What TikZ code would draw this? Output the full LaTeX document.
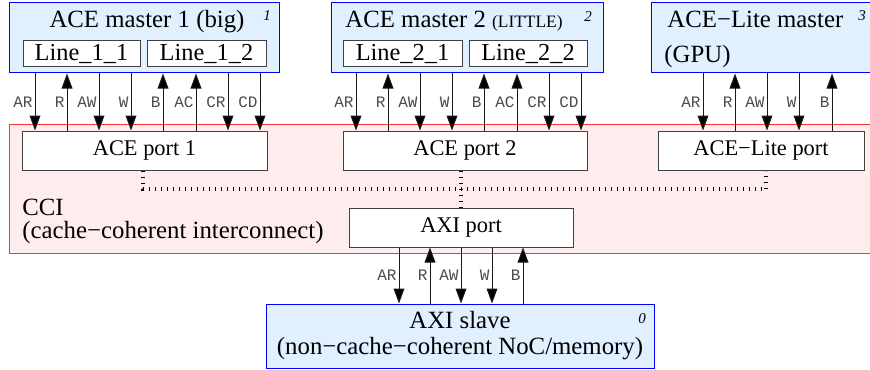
\documentclass[tikz,border=0pt]{standalone}
\usepackage{fontspec}
\setmainfont{Liberation Serif}
\setmonofont{Liberation Mono}
\usetikzlibrary{positioning,arrows.meta}

\definecolor{masterfill}{HTML}{E0F0FF}
\definecolor{ccifill}{HTML}{FFECEC}

\begin{document}
\begin{tikzpicture}[
x=0.5pt, y=-0.5pt,
master/.style={draw=blue, fill=masterfill, line width=0.5pt, inner sep=0pt, minimum height=35pt},
cacheline/.style={draw=black!75, fill=white, line width=0.5pt, inner sep=0pt, minimum height=13pt, font=\fontsize{12.2}{13}\selectfont},
port/.style={draw=black!75, fill=white, line width=0.5pt, inner sep=0pt, minimum height=19.5pt, font=\fontsize{11.2}{13}\selectfont},
cci/.style={draw=red!80, fill=ccifill, line width=0.5pt, inner sep=0pt},
txt/.style={inner sep=0pt, font=\fontsize{12.4}{13}\selectfont},
num/.style={inner sep=0pt, font=\fontsize{7.5}{8}\selectfont\itshape},
sig/.style={draw=black!90, line width=0.5pt},
dn/.style={-{Triangle[width=5.4pt,length=7.5pt]}},
up/.style={{Triangle[width=5.4pt,length=7.5pt]}-},
lab/.style={left, inner sep=1pt, text=black!70, font=\fontsize{8}{9}\selectfont\ttfamily},
bus/.style={line width=2pt, dash pattern=on 0.5pt off 2.5pt},
]
\useasboundingbox (0,0) rectangle (870,369);

% interconnect
\node[cci, minimum width=440pt, minimum height=64.5pt] (cci) at (449,188.5) {};
\node[txt, anchor=base west] (tc1) at (22,215) {CCI};
\node[txt, anchor=base west] (tc2) at (22,238) {(cache−coherent interconnect)};

% masters
\node[master, minimum width=135pt] (m1) at (144,38) {};
\node[master, minimum width=136pt] (m2) at (467,38) {};
\node[master, minimum width=118pt] (m3) at (769,38) {};
\node[txt, anchor=base] (t1) at (147,28) {ACE master 1 (big)};
\node[txt, anchor=base west] (t2) at (345,28) {ACE master 2 {\fontsize{8.7}{10}\selectfont(LITTLE)}};
\node[txt, anchor=base west] (t3) at (667,28) {ACE−Lite master};
\node[txt, anchor=base west] (t3b) at (664,62) {(GPU)};
\node[num] (n1) at (267,16) {1};
\node[num] (n2) at (588,17) {2};
\node[num] (n3) at (862,16) {3};

\node[cacheline, minimum width=58.5pt] (l11) at (81.5,54) {Line\_1\_1};
\node[cacheline, minimum width=59.5pt] (l12) at (206.5,54) {Line\_1\_2};
\node[cacheline, minimum width=59.5pt] (l21) at (402.5,54) {Line\_2\_1};
\node[cacheline, minimum width=59pt] (l22) at (528,54) {Line\_2\_2};

% ports
\node[port, minimum width=122.5pt] (p1) at (144.5,150.5) {ACE port 1};
\node[port, minimum width=122pt] (p2) at (465,150.5) {ACE port 2};
\node[port, minimum width=103pt] (p3) at (761,150.5) {ACE−Lite port};
\node[port, minimum width=112pt] (pa) at (461,227.5) {AXI port};

% slave
\node[master, minimum width=194pt, minimum height=32pt, align=center,
  font=\fontsize{12.4}{13}\selectfont] (s0) at (460,336)
  {AXI slave\\(non−cache−coherent NoC/memory)};
\node[num] (n0) at (642,319) {0};

% internal links
\coordinate (j1) at (143,189);
\coordinate (j3) at (766,189);
\draw[bus] (p1.south -| j1) -- (j1) -- (j3) -- (p3.south -| j3);
\draw[bus] (p2.south -| pa.north) -- (pa.north);

\path[sig]
(m1.south -| 35,0) edge[dn] node[lab] {AR} (p1.north -| 35,0)
(m1.south -| 67,0) edge[up] node[lab] {R} (p1.north -| 67,0)
(m1.south -| 99,0) edge[dn] node[lab] {AW} (p1.north -| 99,0)
(m1.south -| 131,0) edge[dn] node[lab] {W} (p1.north -| 131,0)
(m1.south -| 163,0) edge[up] node[lab] {B} (p1.north -| 163,0)
(m1.south -| 196,0) edge[up] node[lab] {AC} (p1.north -| 196,0)
(m1.south -| 228,0) edge[dn] node[lab] {CR} (p1.north -| 228,0)
(m1.south -| 260,0) edge[dn] node[lab] {CD} (p1.north -| 260,0)
(m2.south -| 356,0) edge[dn] node[lab] {AR} (p2.north -| 356,0)
(m2.south -| 388,0) edge[up] node[lab] {R} (p2.north -| 388,0)
(m2.south -| 420,0) edge[dn] node[lab] {AW} (p2.north -| 420,0)
(m2.south -| 452,0) edge[dn] node[lab] {W} (p2.north -| 452,0)
(m2.south -| 484,0) edge[up] node[lab] {B} (p2.north -| 484,0)
(m2.south -| 517,0) edge[up] node[lab] {AC} (p2.north -| 517,0)
(m2.south -| 549,0) edge[dn] node[lab] {CR} (p2.north -| 549,0)
(m2.south -| 581,0) edge[dn] node[lab] {CD} (p2.north -| 581,0)
(m3.south -| 703,0) edge[dn] node[lab] {AR} (p3.north -| 703,0)
(m3.south -| 735,0) edge[up] node[lab] {R} (p3.north -| 735,0)
(m3.south -| 767,0) edge[dn] node[lab] {AW} (p3.north -| 767,0)
(m3.south -| 799,0) edge[dn] node[lab] {W} (p3.north -| 799,0)
(m3.south -| 832,0) edge[up] node[lab] {B} (p3.north -| 832,0)
(pa.south -| 399,0) edge[dn] node[lab] {AR} (s0.north -| 399,0)
(pa.south -| 430,0) edge[up] node[lab] {R} (s0.north -| 430,0)
(pa.south -| 461,0) edge[dn] node[lab] {AW} (s0.north -| 461,0)
(pa.south -| 492,0) edge[dn] node[lab] {W} (s0.north -| 492,0)
(pa.south -| 523,0) edge[up] node[lab] {B} (s0.north -| 523,0)
;
\end{tikzpicture}
\end{document}
